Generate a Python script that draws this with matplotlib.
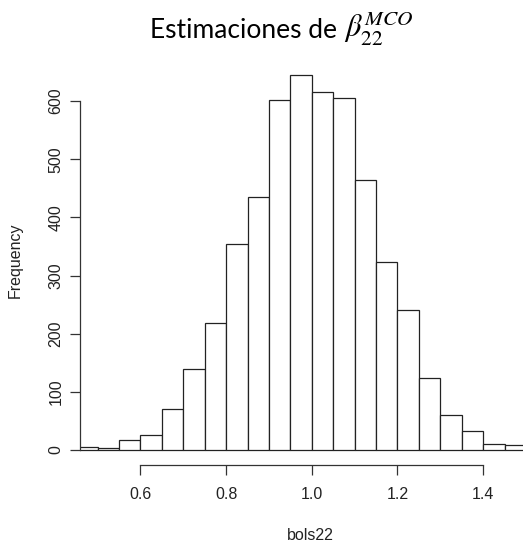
import numpy as np
import matplotlib.pyplot as plt

# histogram of the simulated estimates (bin width 0.05)
breaks = [0.45, 0.50, 0.55, 0.60, 0.65, 0.70, 0.75, 0.80, 0.85, 0.90, 0.95,
          1.00, 1.05, 1.10, 1.15, 1.20, 1.25, 1.30, 1.35, 1.40, 1.45, 1.50]
counts = [5, 3, 17, 25, 70, 139, 218, 355, 436, 602, 645,
          615, 606, 464, 324, 241, 123, 61, 33, 11, 8]
xticks = [0.6, 0.8, 1.0, 1.2, 1.4]
yticks = [0, 100, 200, 300, 400, 500, 600]

plt.rcParams['font.family'] = ['Liberation Sans', 'DejaVu Sans']

W, H = 523, 549
fig = plt.figure(figsize=(W / 100, H / 100), dpi=100)
ax = fig.add_axes([80 / W, (H - 465) / H, 446 / W, 405 / H])

edges = np.array(breaks)
ax.bar(edges[:-1], counts, width=np.diff(edges), align='edge',
       color='white', edgecolor='#222222', linewidth=0.9)

ax.set_xlim(0.459, 1.5)
ax.set_ylim(-25.8, 670.8)

for s in ['top', 'right']:
    ax.spines[s].set_visible(False)
ax.spines['left'].set_bounds(0, 600)
ax.spines['bottom'].set_bounds(0.6, 1.4)
for s in ['left', 'bottom']:
    ax.spines[s].set_color('#333333')
    ax.spines[s].set_linewidth(0.9)

ax.set_xticks(xticks)
ax.set_xticklabels(['%.1f' % t for t in xticks])
ax.set_yticks(yticks)
ax.set_yticklabels([str(t) for t in yticks], rotation=90, va='center')
ax.tick_params(axis='both', length=7, width=0.9, color='#333333',
               labelsize=11.5, labelcolor='#222222')
ax.tick_params(axis='x', pad=9)
ax.tick_params(axis='y', pad=5)

fig.text(310 / W, 1 - 535 / H, 'bols22', ha='center', va='center',
         fontsize=11.5, color='#222222')
fig.text(15 / W, 1 - 260 / H, 'Frequency', ha='center', va='center',
         rotation=90, fontsize=11.5, color='#222222')

# title: plain words plus a math part
fig.text(337 / W, 1 - 30 / H, 'Estimaciones de', ha='right', va='center',
         fontsize=19, family='Lato', color='black')
plt.rcParams['mathtext.fontset'] = 'stix'
fig.text(344 / W, 1 - 29 / H, r'$\beta_{22}^{MCO}$', ha='left', va='center',
         fontsize=22, color='black')

fig.savefig('out.png', dpi=100)
